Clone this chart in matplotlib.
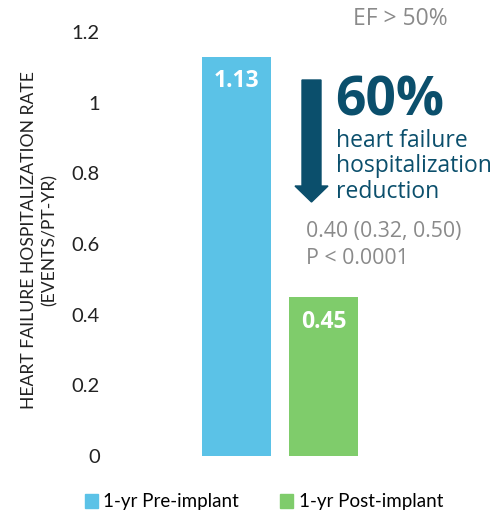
import matplotlib.pyplot as plt
from matplotlib.patches import Patch, FancyArrow

periods = ['1-yr Pre-implant', '1-yr Post-implant']
rates = [1.13, 0.45]
colors = ['#5BC2E7', '#7FCC6B']
yticks = [0, 0.2, 0.4, 0.6, 0.8, 1.0, 1.2]
ytick_labels = ['0', '0.2', '0.4', '0.6', '0.8', '1', '1.2']

reduction = '60%'
reduction_lines = ['heart failure', 'hospitalization', 'reduction']
ratio_text = '0.40 (0.32, 0.50)'
p_text = 'P < 0.0001'

navy = '#0B4F6C'
grey = '#8A8A8A'

plt.rcParams['font.family'] = ['Lato', 'DejaVu Sans']

W, H = 495, 517
fig = plt.figure(figsize=(W / 100, H / 100), dpi=100)
ax = fig.add_axes([115 / W, 61 / H, 330 / W, 424 / H])

pos = [0, 1]
bars = ax.bar(pos, rates, width=0.793, color=colors)
ax.set_xlim(-1.397, 2.397)
ax.set_ylim(0, 1.2)
ax.set_yticks(yticks)
ax.set_yticklabels(ytick_labels, fontsize=14.5, color='#222222')
ax.tick_params(axis='y', length=0, pad=11)
ax.set_xticks([])
for s in ax.spines.values():
    s.set_visible(False)

for b, v in zip(bars, rates):
    ax.text(b.get_x() + b.get_width() / 2, v - 0.087, f'{v:.2f}', ha='center', va='baseline',
            color='white', fontsize=16.5, fontweight='bold', family='Open Sans')

ax.set_ylabel('HEART FAILURE HOSPITALIZATION RATE\n(EVENTS/PT-YR)', fontsize=12.6,
              color='#222222', linespacing=1.3)
ax.yaxis.set_label_coords(-0.175, (456 - 240) / 424)

# reduction arrow and callout
fig.patches.append(FancyArrow(311.5 / W, (H - 80) / H, 0, -(202 - 80) / H, width=19 / W,
                              head_width=33 / W, head_length=16 / H, length_includes_head=True,
                              color=navy, transform=fig.transFigure))
fig.text(335 / W, (H - 116) / H, reduction, fontsize=38.5, fontweight='bold', color=navy,
         family='Open Sans', ha='left', va='baseline')
for i, line in enumerate(reduction_lines):
    fig.text(336 / W, (H - 147 - 25.5 * i) / H, line, fontsize=16.5, color=navy,
             family='Open Sans', ha='left', va='baseline')
fig.text(306 / W, (H - 237) / H, ratio_text, fontsize=15.3, color=grey,
         family='Open Sans', ha='left', va='baseline')
fig.text(306 / W, (H - 264) / H, p_text, fontsize=15.3, color=grey,
         family='Open Sans', ha='left', va='baseline')
fig.text(353 / W, (H - 25) / H, 'EF > 50%', fontsize=16.5, color=grey, family='Open Sans',
         ha='left', va='baseline')

handles = [Patch(color=c, label=l) for c, l in zip(colors, periods)]
fig.legend(handles=handles, loc='center', bbox_to_anchor=(264 / W, 15 / H), ncol=2,
           frameon=False, fontsize=13.5, handlelength=0.7, handleheight=0.7,
           handletextpad=0.3, columnspacing=2.2)

fig.savefig('out.png', dpi=100)
